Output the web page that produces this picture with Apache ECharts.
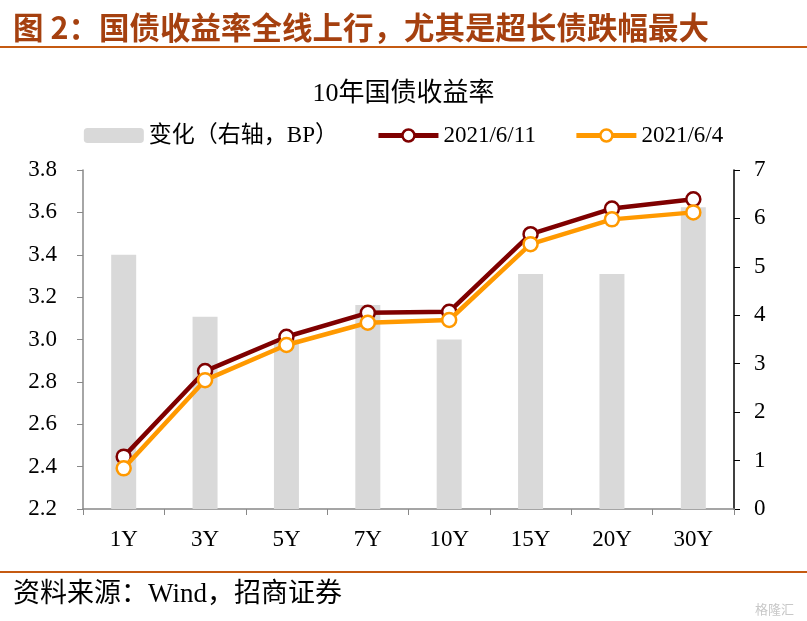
<!DOCTYPE html>
<html><head><meta charset="utf-8">
<script src="https://cdn.jsdelivr.net/npm/echarts@6/dist/echarts.min.js"></script>
<style>html,body{margin:0;padding:0;background:#fff}#c{width:807px;height:621px}</style>
</head><body><div id="c"></div>
<script>
const categories = ['1Y','3Y','5Y','7Y','10Y','15Y','20Y','30Y'];
const changeBP = [5.25, 3.97, 3.5, 4.21, 3.5, 4.85, 4.85, 6.23];
const y20210611 = [2.447, 2.851, 3.013, 3.126, 3.131, 3.497, 3.618, 3.662];
const y20210604 = [2.392, 2.808, 2.974, 3.079, 3.092, 3.45, 3.567, 3.60];
const leftTicks = {min: 2.2, max: 3.8, interval: 0.2};
const rightTicks = {min: 0, max: 7, interval: 1};

const serif = '"Liberation Serif","Noto Sans CJK SC",serif';
const chart = echarts.init(document.getElementById('c'), null, {renderer: 'canvas'});
chart.setOption({
  animation: false,
  backgroundColor: '#fff',
  title: [
    {text: '图 2：国债收益率全线上行，尤其是超长债跌幅最大', left: 8, top: 7,
     textStyle: {fontFamily: '"Noto Sans CJK SC",sans-serif', fontWeight: 'bold', fontSize: 30.5, color: '#a5400f'}},
    {text: '10年国债收益率', left: 'center', top: 76,
     textStyle: {fontFamily: serif, fontWeight: 'normal', fontSize: 26, color: '#000'}},
    {text: '资料来源：Wind，招商证券', left: 8, top: 576,
     textStyle: {fontFamily: serif, fontWeight: 'normal', fontSize: 27, color: '#000'}},
    {text: '格隆汇', right: 8, top: 598,
     textStyle: {fontFamily: '"Noto Sans CJK SC",sans-serif', fontWeight: 'normal', fontSize: 13, color: '#c8c8c8'}}
  ],
  graphic: [
    {type: 'line', shape: {x1: 0, y1: 47, x2: 807, y2: 47}, style: {stroke: '#c55a11', lineWidth: 2}},
    {type: 'line', shape: {x1: 0, y1: 572, x2: 807, y2: 572}, style: {stroke: '#c55a11', lineWidth: 2}}
  ],
  legend: {
    top: 119, left: 'center', itemGap: 38, itemWidth: 60, itemHeight: 15,
    textStyle: {fontFamily: serif, fontSize: 23, color: '#000'},
    data: [
      {name: '变化（右轴，BP）'},
      {name: '2021/6/11', lineStyle: {width: 5}, itemStyle: {borderWidth: 2.5}},
      {name: '2021/6/4', lineStyle: {width: 5}, itemStyle: {borderWidth: 2.5}}
    ]
  },
  grid: {left: 83, right: 73, top: 170, bottom: 112, containLabel: false},
  xAxis: {
    type: 'category', data: categories, boundaryGap: true,
    axisLine: {lineStyle: {color: '#888', width: 1.5}},
    axisTick: {show: true, alignWithLabel: false, length: 6, lineStyle: {color: '#888'}},
    axisLabel: {fontFamily: serif, fontSize: 23, color: '#000', margin: 19}
  },
  yAxis: [
    {type: 'value', min: leftTicks.min, max: leftTicks.max, interval: leftTicks.interval,
     axisLine: {show: true, lineStyle: {color: '#888', width: 1.5}},
     axisTick: {show: true, length: 6, lineStyle: {color: '#888'}},
     splitLine: {show: false},
     axisLabel: {fontFamily: serif, fontSize: 23, color: '#000', margin: 26, formatter: v => v.toFixed(1)}},
    {type: 'value', min: rightTicks.min, max: rightTicks.max, interval: rightTicks.interval, position: 'right',
     axisLine: {show: true, lineStyle: {color: '#000', width: 1.5}},
     axisTick: {show: true, length: 6, lineStyle: {color: '#000'}},
     splitLine: {show: false},
     axisLabel: {fontFamily: serif, fontSize: 23, color: '#000', margin: 20}}
  ],
  series: [
    {name: '变化（右轴，BP）', type: 'bar', yAxisIndex: 1, data: changeBP, barWidth: 25,
     itemStyle: {color: '#d9d9d9'}},
    {name: '2021/6/11', type: 'line', yAxisIndex: 0, data: y20210611,
     symbol: 'circle', symbolSize: 14, lineStyle: {color: '#7f0000', width: 4.5},
     itemStyle: {color: '#fff', borderColor: '#7f0000', borderWidth: 2.5}, z: 3},
    {name: '2021/6/4', type: 'line', yAxisIndex: 0, data: y20210604,
     symbol: 'circle', symbolSize: 14, lineStyle: {color: '#ff9900', width: 4.5},
     itemStyle: {color: '#fff', borderColor: '#ff9900', borderWidth: 2.5}, z: 4}
  ]
});
</script></body></html>
